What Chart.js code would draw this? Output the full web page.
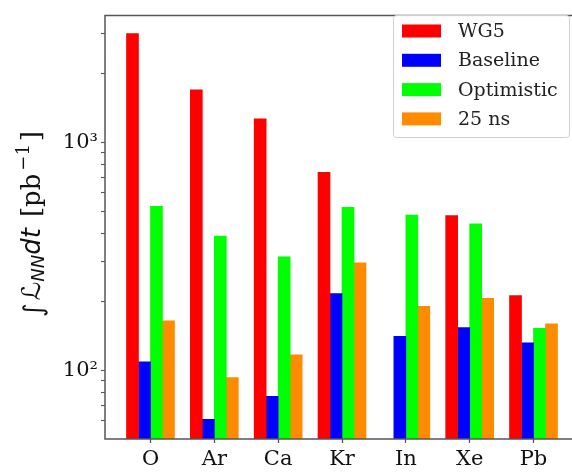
<!DOCTYPE html>
<html>
<head>
<meta charset="utf-8">
<script src="https://cdn.jsdelivr.net/npm/chart.js@4.4.1/dist/chart.umd.min.js"></script>
<style>
	html, body { margin: 0; padding: 0; background: #fff; overflow: hidden; }
	#wrap { width: 580px; height: 472px; }
</style>
</head>
<body>
<div id="wrap"><canvas id="lumi-chart" width="580" height="472"></canvas></div>
<script>
// ion species on the x axis
var elements = ["O", "Ar", "Ca", "Kr", "In", "Xe", "Pb"];

// integrated luminosity per scenario [pb^-1]
var wg5 = [3000, 1700, 1270, 740, null, 477, 213];
var baseline = [109, 61, 77, 217, 141, 154, 132];
var optimistic = [524, 388, 315, 519, 480, 439, 153];
var ns25 = [165, 93, 117, 296, 191, 207, 160];

var seriesNames = ["WG5", "Baseline", "Optimistic", "25 ns"];
var seriesColors = ["#ff0000", "#0000ff", "#00ff00", "#ff8c00"];

// y ticks: labelled decades + unlabelled minor marks
var yMajorTicks = [100, 1000];
var yMinorTicks = [60, 70, 80, 90, 200, 300, 400, 500, 600, 700, 800, 900, 2000, 3000];
var yMin = 50;
var yMax = 3600;

const frameColor = "#555";
const serif = "'DejaVu Serif', serif";

function toPoints(values) {
	return values.map((v, i) => ({ x: i, y: v }));
}

const superDigits = { "2": "\u00b2", "3": "\u00b3" };
function decadeLabel(value) {
	//* 10^n with unicode superscript
	const exp = Math.round(Math.log10(value));
	return "10" + String(exp).split("").map((d) => superDigits[d] || d).join("");
}

//* axes spines: left, top, bottom (the right one falls outside the picture)
const framePlugin = {
	id: "frame",
	afterDraw(chart) {
		const { ctx, chartArea } = chart;
		ctx.save();
		ctx.strokeStyle = frameColor;
		ctx.lineWidth = 1.5;
		ctx.beginPath();
		ctx.moveTo(chartArea.right, chartArea.top);
		ctx.lineTo(chartArea.left, chartArea.top);
		ctx.lineTo(chartArea.left, chartArea.bottom);
		ctx.lineTo(chartArea.right, chartArea.bottom);
		ctx.stroke();
		ctx.restore();
	},
};

//* boxed legend in the top right corner
const legendBoxPlugin = {
	id: "legendBox",
	afterDraw(chart) {
		const ctx = chart.ctx;
		const box = { x: 393, y: 15, w: 176, h: 122 };
		ctx.save();
		ctx.fillStyle = "rgba(255,255,255,0.85)";
		ctx.strokeStyle = "#d0d0d0";
		ctx.lineWidth = 1;
		ctx.beginPath();
		ctx.roundRect(box.x + 0.5, box.y + 0.5, box.w, box.h, 3);
		ctx.fill();
		ctx.stroke();

		ctx.font = "19px " + serif;
		ctx.textBaseline = "middle";
		ctx.textAlign = "left";
		chart.data.datasets.forEach(function (ds, i) {
			const cy = 31 + i * 29.3;
			ctx.fillStyle = ds.backgroundColor;
			ctx.fillRect(402, cy - 6.5, 39, 13);
			ctx.fillStyle = "#222";
			ctx.fillText(ds.label, 458, cy + 1);
		});
		ctx.restore();
	},
};

//* y axis title: \int \mathcal{L}_{NN} dt  [pb^{-1}]  (drawn bottom to top)
const yTitlePlugin = {
	id: "yTitle",
	afterDraw(chart) {
		const ctx = chart.ctx;
		const parts = [
			{ text: "\u222b", font: "26px 'DejaVu Sans'", dy: 2, gap: 3 },
			{ text: "\u2112", font: "italic 26px 'DejaVu Sans'", dy: 0, gap: 0 },
			{ text: "NN", font: "italic 18px 'DejaVu Sans'", dy: 4, gap: 0 },
			{ text: "dt", font: "italic 26px 'DejaVu Sans'", dy: 0, gap: 11 },
			{ text: "[pb", font: "26px " + serif, dy: 0, gap: 3 },
			{ text: "\u22121", font: "18px " + serif, dy: -11, gap: 3 },
			{ text: "]", font: "26px " + serif, dy: 0, gap: 0 },
		];
		ctx.save();
		ctx.translate(40, 317);
		ctx.rotate(-Math.PI / 2);
		ctx.fillStyle = "#111";
		ctx.textBaseline = "alphabetic";
		ctx.textAlign = "left";
		let x = 0;
		parts.forEach(function (p) {
			ctx.font = p.font;
			ctx.fillText(p.text, x, p.dy);
			x += ctx.measureText(p.text).width + p.gap;
		});
		ctx.restore();
	},
};

const datasets = [wg5, baseline, optimistic, ns25].map(function (values, i) {
	return {
		label: seriesNames[i],
		data: toPoints(values),
		backgroundColor: seriesColors[i],
		borderWidth: 0,
		barThickness: 12,
	};
});

const config = {
	type: "bar",
	data: { datasets: datasets },
	options: {
		responsive: false,
		animation: false,
		layout: { padding: { left: 0, top: 5, right: 1, bottom: 0 } },
		plugins: {
			legend: { display: false },
			tooltip: { enabled: false },
		},
		scales: {
			x: {
				type: "linear",
				min: -0.7125,
				max: 6.7125,
				offset: false,
				afterBuildTicks: function (scale) {
					scale.ticks = elements.map((_, i) => ({ value: i }));
				},
				afterFit: function (scale) {
					scale.height = 33;
				},
				border: { display: false },
				grid: {
					offset: false,
					drawOnChartArea: false,
					drawTicks: true,
					tickLength: 4,
					tickColor: frameColor,
					tickWidth: 1.3,
				},
				ticks: {
					autoSkip: false,
					maxRotation: 0,
					padding: 4,
					color: "#111",
					font: { family: serif, size: 21 },
					callback: function (value) {
						return elements[value];
					},
				},
			},
			y: {
				type: "logarithmic",
				min: yMin,
				max: yMax,
				afterBuildTicks: function (scale) {
					const all = yMajorTicks.concat(yMinorTicks).sort((a, b) => a - b);
					scale.ticks = all.map((v) => ({ value: v }));
				},
				afterFit: function (scale) {
					scale.width = 105;
				},
				border: { display: false },
				grid: {
					drawOnChartArea: false,
					drawTicks: true,
					tickLength: 4,
					tickColor: frameColor,
					tickWidth: 1.1,
				},
				ticks: {
					autoSkip: false,
					padding: 3,
					color: "#111",
					font: { family: serif, size: 21 },
					callback: function (value) {
						return yMajorTicks.includes(value) ? decadeLabel(value) : "";
					},
				},
			},
		},
	},
	plugins: [framePlugin, legendBoxPlugin, yTitlePlugin],
};

var chart = new Chart(document.getElementById("lumi-chart"), config);
</script>
</body>
</html>
